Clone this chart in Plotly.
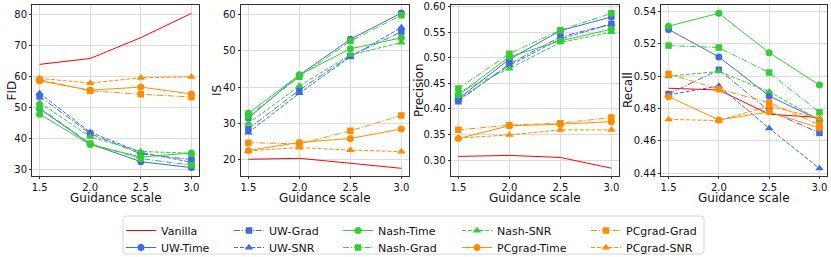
import plotly.graph_objects as go

W, H = 831, 257          # visible window
FIG_H = 290              # figure drawn taller; the part below H is outside the window

guidance = [1.5, 2.0, 2.5, 3.0]
x_ticks = [1.5, 2.0, 2.5, 3.0]

methods = ["Vanilla", "UW-Time", "UW-Grad", "UW-SNR", "Nash-Time", "Nash-Grad",
           "Nash-SNR", "PCgrad-Time", "PCgrad-Grad", "PCgrad-SNR"]

fid_vanilla = [63.8, 65.7, 72.4, 80.2]
fid_uw_time = [49.5, 38.2, 32.5, 30.6]
fid_uw_grad = [53.5, 41.5, 35.0, 33.2]
fid_uw_snr = [54.5, 42.0, 35.5, 32.3]
fid_nash_time = [47.8, 38.0, 34.0, 35.3]
fid_nash_grad = [50.0, 38.3, 33.5, 31.4]
fid_nash_snr = [51.5, 40.5, 35.8, 35.2]
fid_pc_time = [58.5, 55.5, 56.5, 54.3]
fid_pc_grad = [58.9, 55.3, 54.2, 53.3]
fid_pc_snr = [59.3, 57.8, 59.5, 59.8]

is_vanilla = [20.2, 20.45, 19.1, 17.7]
is_uw_time = [31.5, 43.3, 53.1, 60.3]
is_uw_grad = [28.5, 39.2, 48.5, 55.2]
is_uw_snr = [27.5, 38.3, 48.3, 56.3]
is_nash_time = [32.8, 43.3, 50.5, 53.5]
is_nash_grad = [32.0, 42.8, 52.6, 59.7]
is_nash_snr = [30.0, 40.3, 48.8, 52.2]
is_pc_time = [22.6, 24.8, 25.9, 28.5]
is_pc_grad = [24.75, 24.4, 28.0, 32.2]
is_pc_snr = [22.5, 23.4, 22.7, 22.3]

prec_vanilla = [0.307, 0.309, 0.305, 0.284]
prec_uw_time = [0.420, 0.497, 0.553, 0.580]
prec_uw_grad = [0.415, 0.488, 0.541, 0.566]
prec_uw_snr = [0.418, 0.485, 0.537, 0.566]
prec_nash_time = [0.427, 0.502, 0.533, 0.556]
prec_nash_grad = [0.440, 0.508, 0.554, 0.587]
prec_nash_snr = [0.432, 0.479, 0.530, 0.550]
prec_pc_time = [0.342, 0.367, 0.370, 0.375]
prec_pc_grad = [0.359, 0.368, 0.372, 0.383]
prec_pc_snr = [0.343, 0.349, 0.359, 0.359]

rec_vanilla = [0.4926, 0.4915, 0.4765, 0.4745]
rec_uw_time = [0.529, 0.512, 0.4878, 0.473]
rec_uw_grad = [0.489, 0.504, 0.4786, 0.465]
rec_uw_snr = [0.4885, 0.494, 0.4678, 0.443]
rec_nash_time = [0.531, 0.539, 0.5146, 0.4946]
rec_nash_grad = [0.519, 0.5178, 0.5023, 0.4777]
rec_nash_snr = [0.500, 0.503, 0.4905, 0.473]
rec_pc_time = [0.4874, 0.473, 0.478, 0.468]
rec_pc_grad = [0.5014, 0.492, 0.4837, 0.470]
rec_pc_snr = [0.4733, 0.4726, 0.4816, 0.474]

panels = [
    ("FID", [fid_vanilla, fid_uw_time, fid_uw_grad, fid_uw_snr, fid_nash_time, fid_nash_grad,
             fid_nash_snr, fid_pc_time, fid_pc_grad, fid_pc_snr]),
    ("IS", [is_vanilla, is_uw_time, is_uw_grad, is_uw_snr, is_nash_time, is_nash_grad,
            is_nash_snr, is_pc_time, is_pc_grad, is_pc_snr]),
    ("Precision", [prec_vanilla, prec_uw_time, prec_uw_grad, prec_uw_snr, prec_nash_time,
                   prec_nash_grad, prec_nash_snr, prec_pc_time, prec_pc_grad, prec_pc_snr]),
    ("Recall", [rec_vanilla, rec_uw_time, rec_uw_grad, rec_uw_snr, rec_nash_time,
                rec_nash_grad, rec_nash_snr, rec_pc_time, rec_pc_grad, rec_pc_snr]),
]

RED, BLUE, GREEN, ORANGE = "#ff0000", "#4169e1", "#32cd32", "#ff8c00"
DASH = "4px,1.8px"
DASHDOT = "6px,1.8px,1.2px,1.8px"
style = {
    "Vanilla": (RED, "solid", None),
    "UW-Time": (BLUE, "solid", "circle"),
    "UW-Grad": (BLUE, DASHDOT, "square"),
    "UW-SNR": (BLUE, DASH, "triangle-up"),
    "Nash-Time": (GREEN, "solid", "circle"),
    "Nash-Grad": (GREEN, DASHDOT, "square"),
    "Nash-SNR": (GREEN, DASH, "triangle-up"),
    "PCgrad-Time": (ORANGE, "solid", "circle"),
    "PCgrad-Grad": (ORANGE, DASHDOT, "square"),
    "PCgrad-SNR": (ORANGE, DASH, "triangle-up"),
}
# legend grid: 5 columns x 2 rows, filled column-wise
legend_cols = [126, 234, 343, 462, 591]
legend_rows = [216, 233]
msize = {"circle": 7, "square": 6.5, "triangle-up": 7.5}

# pixel layout (from top-left of window)
x_dom_px = [(32, 199), (240.7, 409), (450.7, 619), (661, 827)]
y_top_px, y_bot_px = 5, 176
y_ranges = [(27.9, 82.9), (15.6, 62.5), (0.2687, 0.6033), (0.4383, 0.5441)]
y_dtick = [10, 10, 0.05, 0.02]
y_fmt = ["d", "d", ".2f", ".2f"]
ytitle_x_px = [11, 216.5, 418.5, 627.5]

def px(x):
    return x / W
def py(y):
    return 1 - y / FIG_H

FONT = "DejaVu Sans"
fig = go.Figure()

for pi, (name, series) in enumerate(panels):
    ax = "" if pi == 0 else str(pi + 1)
    for mi, m in enumerate(methods):
        col, dash, sym = style[m]
        mode = "lines" if sym is None else "lines+markers"
        tr = dict(
            x=guidance, y=series[mi], name=m, mode=mode,
            line=dict(color=col, width=1, dash=dash),
            xaxis="x" + ax, yaxis="y" + ax,
            showlegend=(pi == 0),
            legend="legend" if mi == 0 else f"legend{mi + 1}",
        )
        if sym is not None:
            tr["marker"] = dict(symbol=sym, size=msize[sym], color=col)
        fig.add_trace(go.Scatter(**tr))

    x0, x1 = x_dom_px[pi]
    common = dict(
        showline=True, linecolor="#333333", linewidth=1, mirror=True,
        showgrid=True, gridcolor="#dcdcdc", gridwidth=1, zeroline=False,
        ticks="outside", ticklen=2, tickcolor="#333333", tickwidth=1,
        tickfont=dict(family=FONT, size=10, color="#111111"), automargin=False,
    )
    fig.layout["xaxis" + ax] = dict(
        domain=[px(x0), px(x1)], range=[1.425, 3.075], tickvals=x_ticks,
        tickformat=".1f", anchor="y" + ax, **common,
    )
    fig.layout["yaxis" + ax] = dict(
        domain=[py(y_bot_px), py(y_top_px)], range=list(y_ranges[pi]),
        dtick=y_dtick[pi], tick0=0, tickformat=y_fmt[pi], anchor="x" + ax, **common,
    )
    fig.add_annotation(
        text="Guidance scale", xref="paper", yref="paper",
        x=px((x0 + x1) / 2), y=py(197.5), xanchor="center", yanchor="middle",
        showarrow=False, font=dict(family=FONT, size=12, color="#111111"),
    )
    fig.add_annotation(
        text=name, xref="paper", yref="paper", textangle=-90,
        x=px(ytitle_x_px[pi]), y=py((y_top_px + y_bot_px) / 2),
        xanchor="center", yanchor="middle",
        showarrow=False, font=dict(family=FONT, size=12, color="#111111"),
    )

# legend frame with rounded corners
lx0, lx1, ly0, ly1, r = 123, 704, 216, 254, 3
path = (f"M {px(lx0 + r)},{py(ly0)} L {px(lx1 - r)},{py(ly0)} "
        f"Q {px(lx1)},{py(ly0)} {px(lx1)},{py(ly0 + r)} L {px(lx1)},{py(ly1 - r)} "
        f"Q {px(lx1)},{py(ly1)} {px(lx1 - r)},{py(ly1)} L {px(lx0 + r)},{py(ly1)} "
        f"Q {px(lx0)},{py(ly1)} {px(lx0)},{py(ly1 - r)} L {px(lx0)},{py(ly0 + r)} "
        f"Q {px(lx0)},{py(ly0)} {px(lx0 + r)},{py(ly0)} Z")
fig.add_shape(type="path", path=path, xref="paper", yref="paper",
              line=dict(color="#d5d5d5", width=1), fillcolor="white", layer="below")

leg_common = dict(
    orientation="v", xanchor="left", yanchor="top", bgcolor="rgba(0,0,0,0)",
    borderwidth=0, font=dict(family=FONT, size=11, color="#111111"),
    tracegroupgap=0, itemwidth=30,
)
for mi in range(len(methods)):
    key = "legend" if mi == 0 else f"legend{mi + 1}"
    c, rr = divmod(mi, 2)
    fig.layout[key] = dict(x=px(legend_cols[c] - 5), y=py(legend_rows[rr]), **leg_common)

fig.update_layout(
    width=W, height=FIG_H, margin=dict(l=0, r=0, t=0, b=0),
    paper_bgcolor="white", plot_bgcolor="white",
    font=dict(family=FONT, size=10, color="#111111"),
)

fig.write_html(
    "out.html",
    config={"displayModeBar": False},
    post_script="document.body.style.margin='0px';document.body.style.overflow='hidden';",
)
